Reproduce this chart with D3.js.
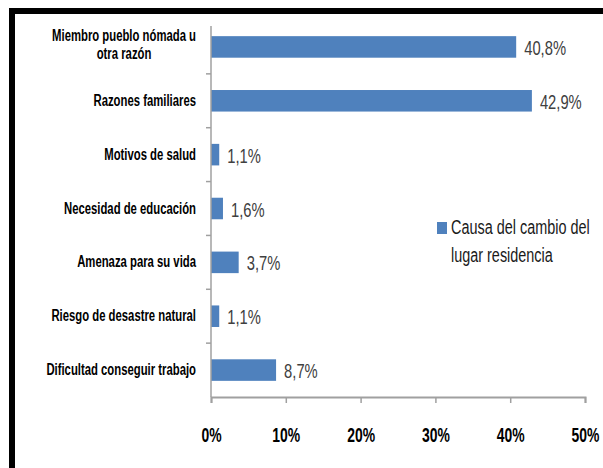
<!DOCTYPE html>
<html>
<head>
<meta charset="utf-8">
<script src="https://cdn.jsdelivr.net/npm/d3@7/dist/d3.min.js"></script>
<style>
  html, body { margin: 0; padding: 0; background: #fff; }
  svg { display: block; }
  text { font-family: "Liberation Sans", Arial, sans-serif; }
</style>
</head>
<body>
<svg id="chart" width="603" height="468"></svg>
<script>
const categories = [
  ["Miembro pueblo nómada u", "otra razón"],
  ["Razones familiares"],
  ["Motivos de salud"],
  ["Necesidad de educación"],
  ["Amenaza para su vida"],
  ["Riesgo de desastre natural"],
  ["Dificultad conseguir trabajo"]
];
const values = [40.8, 42.9, 1.1, 1.6, 3.7, 1.1, 8.7];
const xTicks = [0, 10, 20, 30, 40, 50];
const legendLines = ["Causa del  cambio del", "lugar residencia"];

// the source picture uses a narrow face, squeezed sideways and stretched up
const sx = 0.82;
const sy = 1.17;
const squash = `scale(${sx},${sy})`;
const barColor = "#4f81bd";
const axisColor = "#a0a0a0";

const svg = d3.select("#chart");
const keys = categories.map(c => c.join(" "));

const x = d3.scaleLinear().domain([0, 50]).range([211, 585]);
const y = d3.scaleBand().domain(keys).range([20, 397])
  .paddingInner(0.6).paddingOuter(0.3);
const step = y.step();

// black frame (top + left only)
svg.append("rect").attr("x", 9).attr("y", 8).attr("width", 594).attr("height", 6).attr("fill", "#000");
svg.append("rect").attr("x", 9).attr("y", 8).attr("width", 6).attr("height", 460).attr("fill", "#000");

// bars
svg.selectAll("rect.bar")
  .data(values)
  .enter()
  .append("rect")
  .attr("class", "bar")
  .attr("x", x(0))
  .attr("y", (d, i) => y(keys[i]))
  .attr("width", d => x(d) - x(0))
  .attr("height", y.bandwidth())
  .attr("fill", barColor);

// value labels
svg.selectAll("text.val")
  .data(values)
  .enter()
  .append("text")
  .attr("class", "val")
  .attr("transform", (d, i) =>
    `translate(${x(d) + 8},${y(keys[i]) + y.bandwidth() / 2 + 8}) ${squash}`)
  .attr("font-size", 18)
  .attr("fill", "#404040")
  .text(d => d.toFixed(1).replace(".", ",") + "%");

// y axis line and boundary ticks
svg.append("line")
  .attr("x1", x(0)).attr("x2", x(0))
  .attr("y1", y.range()[0] + 6).attr("y2", y.range()[1])
  .attr("stroke", axisColor).attr("stroke-width", 1.5);

svg.selectAll("line.ytick")
  .data(keys.slice(1))
  .enter()
  .append("line")
  .attr("class", "ytick")
  .attr("x1", x(0) - 5).attr("x2", x(0))
  .attr("y1", d => y(d) - step * 0.3)
  .attr("y2", d => y(d) - step * 0.3)
  .attr("stroke", axisColor).attr("stroke-width", 1.5);

// category labels: block right aligned, lines centred
const labelRight = 196;
const lineGap = 18;
categories.forEach((lines, i) => {
  const cy = y(keys[i]) + y.bandwidth() / 2;
  const g = svg.append("g");
  const texts = lines.map(line =>
    g.append("text")
      .attr("font-size", 13.8)
      .attr("font-weight", "bold")
      .attr("fill", "#000")
      .attr("text-anchor", "middle")
      .text(line)
  );
  const maxW = d3.max(texts, t => t.node().getComputedTextLength()) * sx;
  const cx = labelRight - maxW / 2;
  const first = cy + 5 - (lines.length - 1) * lineGap / 2 - (lines.length > 1 ? 2 : 0);
  texts.forEach((t, j) =>
    t.attr("transform", `translate(${cx},${first + j * lineGap}) ${squash}`)
  );
});

// x axis
const xAxis = svg.append("g")
  .attr("transform", `translate(0,${y.range()[1]})`)
  .call(d3.axisBottom(x).tickValues(xTicks).tickSize(6).tickSizeOuter(6)
    .tickFormat(d => d + "%"));

xAxis.select(".domain").attr("stroke", axisColor).attr("stroke-width", 2);
xAxis.selectAll(".tick line").attr("stroke", axisColor).attr("stroke-width", 1.5);
xAxis.selectAll(".tick text")
  .attr("y", null).attr("dy", null)
  .attr("transform", `translate(0,44.7) ${squash}`)
  .attr("font-size", 17)
  .attr("font-weight", "bold")
  .attr("fill", "#000")
  .attr("font-family", "'Liberation Sans', Arial, sans-serif");

// legend
const legend = svg.append("g");
legend.append("rect")
  .attr("x", 437).attr("y", 222)
  .attr("width", 10).attr("height", 12)
  .attr("fill", barColor);
legend.selectAll("text")
  .data(legendLines)
  .enter()
  .append("text")
  .attr("transform", (d, i) => `translate(451,${234 + i * 28}) ${squash}`)
  .attr("font-size", 17.6)
  .attr("fill", "#1a1a1a")
  .text(d => d);
</script>
</body>
</html>
